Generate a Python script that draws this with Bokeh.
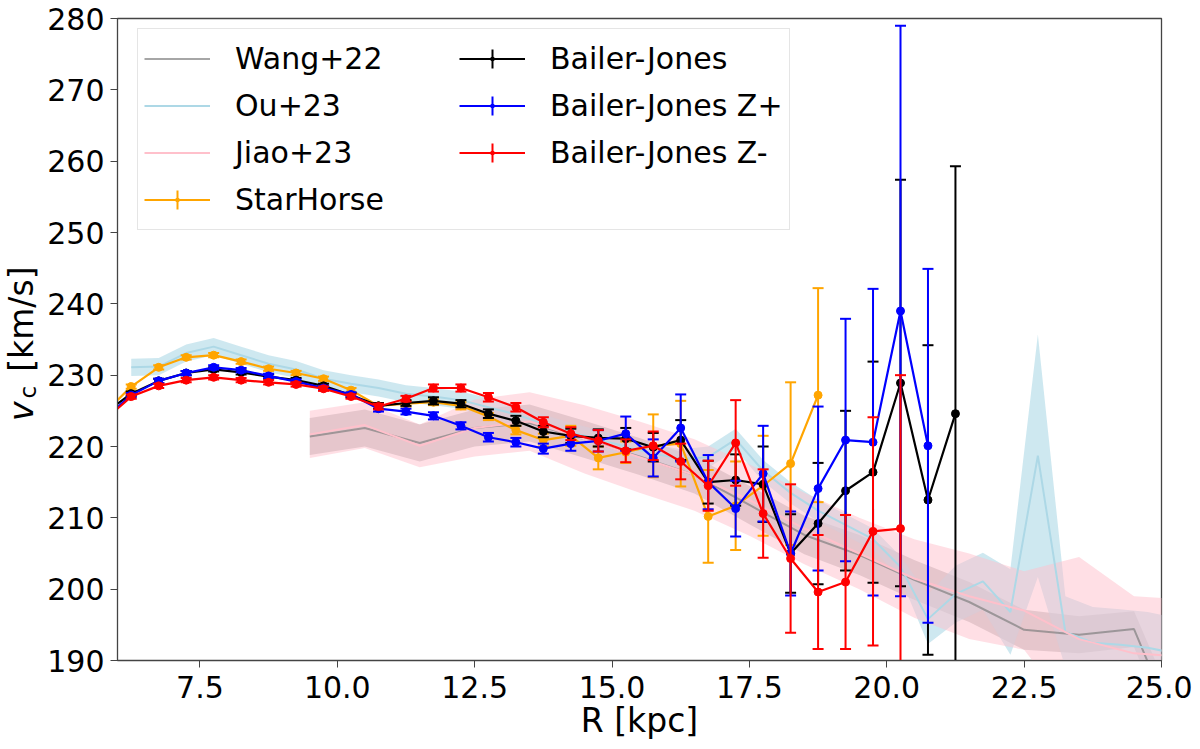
from bokeh.plotting import figure
from bokeh.layouts import row
from bokeh.models import (ColumnDataSource, FixedTicker, PrintfTickFormatter,
                          Legend, LegendItem, Range1d)
from bokeh.core.properties import value
from bokeh.embed import file_html
from bokeh.resources import INLINE

# Wang+22
r_wang = [9.5, 10.5, 11.5, 12.5, 13.5, 14.5, 15.5, 16.5, 17.5, 18.5, 19.5,
          20.5, 21.5, 22.5, 23.5, 24.5, 25.5]
v_wang = [221.4, 222.6, 220.5, 222.6, 223.3, 221.0, 218.6, 216.0, 211.8, 207.6,
          204.8, 201.3, 198.2, 194.3, 193.6, 194.4, 176.0]
e_wang = [2.6, 2.6, 2.6, 2.6, 2.6, 2.6, 2.6, 2.6, 2.7, 2.7, 2.8, 2.8, 2.8,
          2.8, 2.6, 2.5, 3.0]

# Ou+23
r_ou = [6.25, 6.75, 7.25, 7.75, 8.25, 8.75, 9.25, 9.75, 10.25, 10.75, 11.25,
        11.75, 12.25, 12.75, 13.25, 13.75, 14.25, 14.75, 15.25, 15.75, 16.25,
        16.75, 17.25, 17.75, 18.25, 18.75, 19.25, 19.75, 20.25, 20.75, 21.25,
        21.75, 22.25, 22.75, 23.25, 23.75, 24.25, 24.75, 25.25]
v_ou = [231.1, 231.2, 233.1, 234.0, 232.8, 231.6, 230.8, 229.5, 228.8, 228.2,
        227.4, 227.0, 226.5, 225.5, 224.5, 223.2, 222.0, 221.0, 220.0, 219.0,
        218.3, 218.5, 221.0, 216.6, 213.5, 211.0, 209.0, 207.0, 203.1, 195.8,
        199.3, 201.1, 196.8, 218.7, 194.0, 192.5, 192.2, 191.8, 191.0]
e_ou = [1.2, 1.2, 1.2, 1.2, 1.2, 1.2, 1.2, 1.2, 1.2, 1.2, 1.2, 1.2, 1.2, 1.3,
        1.3, 1.3, 1.3, 1.3, 1.3, 1.3, 1.3, 1.5, 1.5, 1.5, 1.5, 1.5, 1.5, 1.5,
        1.5, 3.5, 4.0, 4.0, 6.0, 17.0, 5.0, 5.0, 5.0, 5.0, 5.0]

# Jiao+23
r_jiao = [9.5, 10.5, 11.5, 12.5, 13.5, 14.5, 15.5, 16.5, 17.5, 18.5, 19.5,
          20.5, 21.5, 22.5, 23.5, 24.5, 25.5]
v_jiao = [221.7, 223.0, 220.1, 222.6, 223.5, 221.0, 218.5, 216.0, 212.5, 208.5,
          205.0, 201.5, 199.0, 197.0, 193.0, 191.0, 190.5]
e_jiao = [3.3, 3.2, 3.0, 4.0, 4.1, 4.8, 5.0, 5.0, 5.0, 5.0, 5.0, 5.5, 6.0,
          5.5, 11.5, 8.0, 8.0]

# StarHorse
r_sh = [5.75, 6.25, 6.75, 7.25, 7.75, 8.25, 8.75, 9.25, 9.75, 10.25, 10.75,
        11.25, 11.75, 12.25, 12.75, 13.25, 13.75, 14.25, 14.75, 15.25, 15.75,
        16.25, 16.75, 17.25, 17.75, 18.25, 18.75]
v_sh = [224.6, 228.4, 231.1, 232.5, 232.8, 231.9, 230.9, 230.3, 229.5, 227.9,
        225.7, 226.0, 226.2, 225.7, 224.2, 222.3, 220.9, 221.5, 218.4, 219.2,
        220.1, 220.4, 210.2, 211.7, 214.5, 217.6, 227.2]
e_sh = [0.3, 0.3, 0.3, 0.3, 0.3, 0.3, 0.3, 0.3, 0.3, 0.3, 0.4, 0.4, 0.4, 0.5,
        0.5, 0.6, 0.9, 1.4, 1.6, 1.5, 4.4, 6.0, 6.5, 6.2, 7.0, 11.4, 15.0]

# Bailer-Jones
r_bj = [5.75, 6.25, 6.75, 7.25, 7.75, 8.25, 8.75, 9.25, 9.75, 10.25, 10.75,
        11.25, 11.75, 12.25, 12.75, 13.25, 13.75, 14.25, 14.75, 15.25, 15.75,
        16.25, 16.75, 17.25, 17.75, 18.25, 18.75, 19.25, 19.75, 20.25, 20.75,
        21.25]
v_bj = [224.6, 227.4, 229.2, 230.3, 230.8, 230.4, 229.8, 229.3, 228.5, 227.2,
        225.7, 226.1, 226.4, 226.0, 224.6, 223.6, 222.1, 221.5, 221.2, 221.1,
        219.9, 220.9, 215.0, 215.3, 214.7, 205.0, 209.2, 213.8, 216.4, 228.9,
        212.5, 224.6]
e_bj = [0.3, 0.3, 0.3, 0.3, 0.3, 0.3, 0.3, 0.3, 0.3, 0.3, 0.4, 0.4, 0.5, 0.5,
        0.6, 0.7, 0.8, 1.0, 1.2, 1.5, 2.0, 2.8, 3.0, 3.6, 5.3, 5.5, 8.5, 11.2,
        15.5, 28.5, 21.7, 34.7]

# Bailer-Jones Z+
r_bjp = r_bj[:-1]
v_bjp = [223.8, 227.2, 229.2, 230.3, 231.1, 230.7, 229.9, 229.1, 228.2, 227.3,
         225.3, 224.9, 224.3, 222.9, 221.3, 220.6, 219.7, 220.4, 220.8, 221.8,
         218.4, 222.6, 215.0, 211.3, 216.2, 205.0, 214.1, 220.9, 220.6, 239.0,
         220.1]
e_bjp = [0.3, 0.3, 0.3, 0.3, 0.3, 0.3, 0.3, 0.3, 0.3, 0.3, 0.4, 0.4, 0.5, 0.5,
         0.6, 0.6, 0.7, 1.0, 1.5, 2.4, 2.6, 4.7, 3.8, 3.9, 6.7, 5.9, 11.5, 17.0,
         21.5, 40.0, 24.8]

# Bailer-Jones Z-
r_bjm = r_bj[:-2]
v_bjm = [223.6, 227.0, 228.5, 229.3, 229.7, 229.3, 229.0, 228.7, 228.1, 227.0,
         225.6, 226.7, 228.2, 228.2, 226.9, 225.5, 223.4, 221.8, 220.8, 219.4,
         220.1, 217.9, 214.5, 220.5, 210.6, 204.3, 199.6, 201.0, 208.1, 208.5]
e_bjm = [0.3, 0.3, 0.3, 0.3, 0.3, 0.3, 0.3, 0.3, 0.3, 0.3, 0.4, 0.4, 0.5, 0.5,
         0.6, 0.6, 0.7, 0.9, 1.5, 1.6, 2.0, 2.5, 3.5, 6.0, 6.2, 10.4, 8.0, 9.4,
         16.0, 21.5]

x_ticks = [7.5, 10, 12.5, 15, 17.5, 20, 22.5, 25]
y_ticks = [190, 200, 210, 220, 230, 240, 250, 260, 270, 280]

FONT = "DejaVu Sans"
H = 745
LW = 42

p = figure(frame_width=1044, frame_height=642,
           x_range=Range1d(6, 25), y_range=Range1d(190, 280),
           output_backend="svg", toolbar_location=None,
           min_border_left=117 - LW, min_border_top=18, min_border_right=31,
           min_border_bottom=H - 18 - 642)
p.xgrid.grid_line_color = None
p.ygrid.grid_line_color = None
p.outline_line_color = "#444444"
p.outline_line_width = 1.3


def src_of(r, v, e):
    return ColumnDataSource(dict(r=r, v=v, lo=[a - b for a, b in zip(v, e)],
                                 hi=[a + b for a, b in zip(v, e)]))


def errorbar(r, v, e, color):
    src = src_of(r, v, e)
    ln = p.line("r", "v", source=src, line_color=color, line_width=2.2)
    p.segment("r", "lo", "r", "hi", source=src, line_color=color, line_width=2)
    p.scatter("r", "lo", source=src, marker="dash", size=11, line_color=color,
              line_width=2)
    p.scatter("r", "hi", source=src, marker="dash", size=11, line_color=color,
              line_width=2)
    p.scatter("r", "v", source=src, marker="circle", size=8,
              fill_color=color, line_color=color)
    # legend-only glyphs, placed outside the visible range
    cr = p.scatter([0], [0], marker="cross", size=30, line_color=color,
                   line_width=2)
    dt = p.scatter([0], [0], marker="dot", size=30, line_color=color,
                   fill_color=color, line_width=2)
    return [ln, cr, dt]


s_w = src_of(r_wang, v_wang, e_wang)
s_o = src_of(r_ou, v_ou, e_ou)
s_j = src_of(r_jiao, v_jiao, e_jiao)
p.varea("r", "lo", "hi", source=s_w, fill_color="gray", fill_alpha=0.4)
p.varea("r", "lo", "hi", source=s_o, fill_color="lightblue", fill_alpha=0.6)
p.varea("r", "lo", "hi", source=s_j, fill_color="pink", fill_alpha=0.5)
r_w = p.line("r", "v", source=s_w, line_color="gray", line_width=2,
             line_alpha=0.7)
r_o = p.line("r", "v", source=s_o, line_color="lightblue", line_width=2)
r_j = p.line("r", "v", source=s_j, line_color="pink", line_width=2)

r_s = errorbar(r_sh, v_sh, e_sh, "orange")
r_b = errorbar(r_bj, v_bj, e_bj, "black")
r_p = errorbar(r_bjp, v_bjp, e_bjp, "blue")
r_m = errorbar(r_bjm, v_bjm, e_bjm, "red")

legend = Legend(items=[
    LegendItem(label="Wang+22", renderers=[r_w]),
    LegendItem(label="Ou+23", renderers=[r_o]),
    LegendItem(label="Jiao+23", renderers=[r_j]),
    LegendItem(label="StarHorse", renderers=r_s),
    LegendItem(label="Bailer-Jones", renderers=r_b),
    LegendItem(label="Bailer-Jones Z+", renderers=r_p),
    LegendItem(label="Bailer-Jones Z-", renderers=r_m),
], location=(20, 430), orientation="vertical", ncols=2,
    glyph_width=66, glyph_height=47, label_standoff=25, spacing=0,
    padding=6, margin=0, label_width=224,
    label_text_font=FONT, label_text_font_size="30px",
    label_text_color="black",
    border_line_color="#cccccc", border_line_width=1.5,
    background_fill_alpha=0.8)
p.add_layout(legend)

for ax in (p.xaxis, p.yaxis):
    ax.major_label_text_font = FONT
    ax.major_label_text_font_size = "30px"
    ax.major_label_text_color = "black"
    ax.axis_line_color = "#444444"
    ax.major_tick_line_color = "#444444"
    ax.major_tick_out = 7
    ax.major_tick_in = 0
    ax.minor_tick_out = 0
    ax.minor_tick_in = 0

p.xaxis.ticker = FixedTicker(ticks=x_ticks)
p.xaxis.formatter = PrintfTickFormatter(format="%.1f")
p.xaxis.major_label_standoff = 8
p.xaxis.axis_label = "R [kpc]"
p.xaxis.axis_label_text_font = FONT
p.xaxis.axis_label_text_font_size = "33px"
p.xaxis.axis_label_text_font_style = "normal"
p.xaxis.axis_label_text_color = "black"
p.xaxis.axis_label_standoff = 0

p.yaxis.ticker = FixedTicker(ticks=y_ticks)
p.yaxis.major_label_standoff = 6

# y-axis title: italic v with subscript c, drawn in a narrow strip on the left
lab = figure(width=LW, height=H, x_range=Range1d(0, LW), y_range=Range1d(0, H),
             x_axis_location=None, y_axis_location=None, min_border=0,
             toolbar_location=None, output_backend="svg",
             outline_line_color=None)
lab.grid.visible = False
lab.text(x=[21], y=[278], text=["v"], angle=1.5708,
         text_font=value(FONT), text_font_size="33px",
         text_font_style="italic", text_baseline="alphabetic",
         text_align="left", text_color="black")
lab.text(x=[27], y=[304], text=["c"], angle=1.5708,
         text_font=value(FONT), text_font_size="23px",
         text_baseline="alphabetic", text_align="left", text_color="black")
lab.text(x=[21], y=[335], text=["[km/s]"], angle=1.5708,
         text_font=value(FONT), text_font_size="33px",
         text_baseline="alphabetic", text_align="left", text_color="black")

layout = row(lab, p)
open("out.html", "w").write(file_html(layout, INLINE))
